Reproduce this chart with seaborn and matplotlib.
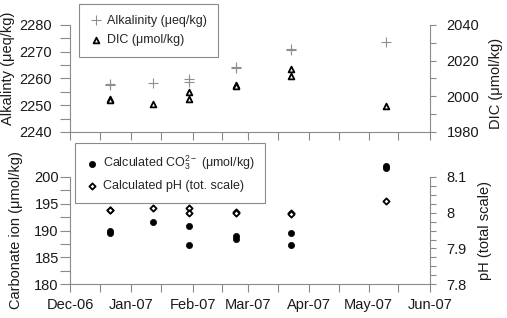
import matplotlib
matplotlib.use("Agg")
import matplotlib.pyplot as plt
import matplotlib.dates as mdates
from matplotlib.ticker import MultipleLocator, FuncFormatter
import pandas as pd
import seaborn as sns

alk_dates = ["2006-12-21", "2006-12-21", "2007-01-12", "2007-01-30", "2007-01-30",
             "2007-02-23", "2007-02-23", "2007-03-23", "2007-03-23", "2007-05-10"]
alk = [2257.9, 2257.6, 2258.1, 2259.6, 2258.6, 2264.1, 2263.8, 2270.8, 2270.5, 2273.7]

dic_dates = alk_dates
dic = [1998.5, 1997.8, 1995.6, 2002.1, 1998.2, 2006.2, 2005.6, 2015.3, 2011.1, 1994.8]

co3_dates = ["2006-12-21", "2006-12-21", "2007-01-12", "2007-01-30", "2007-01-30",
             "2007-02-23", "2007-02-23", "2007-03-23", "2007-03-23", "2007-05-10", "2007-05-10"]
co3 = [189.9, 189.5, 191.5, 190.8, 187.4, 188.9, 188.5, 189.5, 187.4, 202.0, 201.7]

ph_dates = ["2006-12-21", "2006-12-21", "2007-01-12", "2007-01-30", "2007-01-30",
            "2007-02-23", "2007-02-23", "2007-03-23", "2007-03-23", "2007-05-10"]
ph = [8.008, 8.006, 8.014, 8.012, 8.000, 8.002, 8.000, 7.999, 7.996, 8.033]

x_start, x_end = "2006-12-01", "2007-06-01"

sns.set_style("ticks")
plt.rcParams["font.family"] = ["Liberation Sans", "DejaVu Sans"]
plt.rcParams["mathtext.fontset"] = "custom"
plt.rcParams["mathtext.rm"] = "Liberation Sans"
plt.rcParams["mathtext.it"] = "Liberation Sans:italic"

grey = "#8a8a8a"
txt = "#1a1a1a"

fig = plt.figure(figsize=(5.07, 3.18), dpi=100)
ax1 = fig.add_axes([0.138, 0.585, 0.710, 0.337])
ax3 = fig.add_axes([0.138, 0.106, 0.710, 0.338])
ax2 = ax1.twinx()
ax4 = ax3.twinx()

sns.scatterplot(x=pd.to_datetime(alk_dates), y=alk, ax=ax1, marker="+", s=52,
                color="#8f8f8f", linewidth=0.8, label="Alkalinity (μeq/kg)", legend=False)
sns.scatterplot(x=pd.to_datetime(dic_dates), y=dic, ax=ax2, marker="^", s=17,
                color="black", facecolor="white", edgecolor="black", linewidth=1.3,
                label="DIC (μmol/kg)", legend=False)
sns.scatterplot(x=pd.to_datetime(co3_dates), y=co3, ax=ax3, marker="o", s=20,
                color="black", edgecolor="black", linewidth=0.5, clip_on=False,
                label="Calculated CO$_3^{2-}$ (μmol/kg)", legend=False)
sns.scatterplot(x=pd.to_datetime(ph_dates), y=ph, ax=ax4, marker="D", s=10,
                color="black", facecolor="white", edgecolor="black", linewidth=1.3,
                clip_on=False, label="Calculated pH (tot. scale)", legend=False)

for ax in (ax1, ax3):
    ax.set_xlim(pd.Timestamp(x_start), pd.Timestamp(x_end))
    ax.xaxis.set_major_locator(mdates.MonthLocator())
    ax.xaxis.set_minor_locator(mdates.DayLocator(bymonthday=16))
    ax.xaxis.set_major_formatter(mdates.DateFormatter("%b-%y"))
    ax.spines["top"].set_visible(False)
    ax.spines["right"].set_visible(False)
    ax.spines["left"].set_color(grey)
    ax.spines["bottom"].set_color(grey)
    ax.tick_params(axis="x", which="both", direction="out", length=6, width=0.8,
                   color=grey, labelsize=10.5, labelcolor=txt, pad=4)
    ax.tick_params(axis="y", which="both", direction="out", length=7, width=0.8,
                   color=grey, labelsize=10.5, labelcolor=txt)
    ax.set_xlabel("")

for ax in (ax2, ax4):
    for s in ("top", "left", "bottom"):
        ax.spines[s].set_visible(False)
    ax.spines["right"].set_color(grey)
    ax.tick_params(axis="y", which="both", direction="out", length=4, width=0.8,
                   color=grey, labelsize=10.5, labelcolor=txt, pad=8)

ax1.tick_params(axis="x", labelbottom=False)
ax1.tick_params(axis="y", pad=6)
ax3.tick_params(axis="y", pad=1)

ax1.set_ylim(2240, 2280)
ax1.yaxis.set_major_locator(MultipleLocator(10))
ax1.yaxis.set_minor_locator(MultipleLocator(5))
ax2.set_ylim(1980, 2040)
ax2.yaxis.set_major_locator(MultipleLocator(20))
ax2.yaxis.set_minor_locator(MultipleLocator(10))
ax3.set_ylim(180, 200)
ax3.yaxis.set_major_locator(MultipleLocator(5))
ax3.yaxis.set_minor_locator(MultipleLocator(2.5))
ax4.set_ylim(7.8, 8.1)
ax4.yaxis.set_major_locator(MultipleLocator(0.1))
ax4.yaxis.set_minor_locator(MultipleLocator(0.025))
ax4.yaxis.set_major_formatter(FuncFormatter(lambda v, p: f"{v:g}"))

ax1.set_ylabel("Alkalinty (μeq/kg)", fontsize=10.5, color=txt)
ax1.yaxis.set_label_coords(-0.153, 0.59)
ax2.set_ylabel("DIC (μmol/kg)", fontsize=10.5, color=txt)
ax2.yaxis.set_label_coords(1.163, 0.45)
ax3.set_ylabel("Carbonate ion (μmol/kg)", fontsize=10.5, color=txt)
ax3.yaxis.set_label_coords(-0.131, 0.5)
ax4.set_ylabel("pH (total scale)", fontsize=10.5, color=txt)
ax4.yaxis.set_label_coords(1.133, 0.5)

leg_kw = dict(loc="upper left", frameon=True, fancybox=False, edgecolor=grey,
              fontsize=9, borderpad=0.85, handlelength=1.0, handletextpad=0.4,
              labelspacing=0.6, borderaxespad=0, scatterpoints=1, framealpha=1)

h1, l1 = ax1.get_legend_handles_labels()
h2, l2 = ax2.get_legend_handles_labels()
leg1 = fig.legend(h1 + h2, l1 + l2, bbox_to_anchor=(0.156, 0.987), **leg_kw)
leg1.get_frame().set_linewidth(0.8)

h3, l3 = ax3.get_legend_handles_labels()
h4, l4 = ax4.get_legend_handles_labels()
leg2 = fig.legend(h3 + h4, l3 + l4, bbox_to_anchor=(0.148, 0.550), **leg_kw)
leg2.get_frame().set_linewidth(0.8)

fig.savefig("out.png", dpi=100)
